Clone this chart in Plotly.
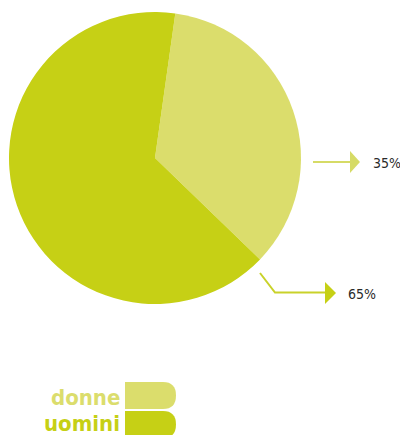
import plotly.graph_objects as go

W, H = 400, 435

# data
categories = ["donne", "uomini"]
values = [35, 65]
value_labels = ["35%", "65%"]
colors = ["#dbdd6c", "#c6d015"]


def px(x):
    return x / W


def py(y):
    return 1 - y / H


fig = go.Figure()
fig.add_trace(go.Pie(
    labels=categories,
    values=values,
    sort=False,
    direction="clockwise",
    rotation=8,
    marker=dict(colors=colors, line=dict(width=0)),
    textinfo="none",
    hoverinfo="label+percent",
    showlegend=False,
    domain=dict(x=[px(9), px(301)], y=[py(304), py(12)]),
))

shapes = []
# 35% arrow
shapes.append(dict(type="line", xref="paper", yref="paper",
                   x0=px(313), y0=py(162), x1=px(351), y1=py(162),
                   line=dict(color="#d6db66", width=2)))
shapes.append(dict(type="path", xref="paper", yref="paper",
                   path=f"M {px(350)},{py(151)} L {px(360)},{py(162)} L {px(350)},{py(173)} Z",
                   fillcolor="#d6db66", line=dict(width=0)))
# 65% arrow
shapes.append(dict(type="path", xref="paper", yref="paper",
                   path=f"M {px(260)},{py(273)} L {px(275)},{py(292.5)} L {px(326)},{py(292.5)}",
                   line=dict(color="#c9d22a", width=2)))
shapes.append(dict(type="path", xref="paper", yref="paper",
                   path=f"M {px(325)},{py(282)} L {px(336)},{py(293)} L {px(325)},{py(304)} Z",
                   fillcolor="#c6d015", line=dict(width=0)))


# legend icon (rounded right-side blocks)
def block(x0, x1, y0, y1, r, color):
    ym = (y0 + y1) / 2
    p = (f"M {px(x0)},{py(y0)} L {px(x1 - r)},{py(y0)} "
         f"Q {px(x1)},{py(y0)} {px(x1)},{py(ym)} "
         f"Q {px(x1)},{py(y1)} {px(x1 - r)},{py(y1)} "
         f"L {px(x0)},{py(y1)} Z")
    return dict(type="path", xref="paper", yref="paper", path=p,
                fillcolor=color, line=dict(width=0))


shapes.append(block(125, 176, 382, 409, 13, colors[0]))
shapes.append(block(125, 176, 411, 438, 13, colors[1]))

font_num = "DejaVu Sans Condensed, Liberation Sans Narrow, sans-serif"
annotations = [
    dict(x=px(371), y=py(163), xref="paper", yref="paper", text=value_labels[0],
         showarrow=False, xanchor="left", yanchor="middle",
         font=dict(family=font_num, size=14, color="#2a2a2a")),
    dict(x=px(346), y=py(294), xref="paper", yref="paper", text=value_labels[1],
         showarrow=False, xanchor="left", yanchor="middle",
         font=dict(family=font_num, size=14, color="#2a2a2a")),
    dict(x=px(122), y=py(397), xref="paper", yref="paper", text=f"<b>{categories[0]}</b>",
         showarrow=False, xanchor="right", yanchor="middle",
         font=dict(family=font_num, size=22, color=colors[0])),
    dict(x=px(122), y=py(423), xref="paper", yref="paper", text=f"<b>{categories[1]}</b>",
         showarrow=False, xanchor="right", yanchor="middle",
         font=dict(family=font_num, size=22, color=colors[1])),
]

fig.update_layout(
    width=W, height=H,
    margin=dict(l=0, r=0, t=0, b=0),
    paper_bgcolor="white",
    plot_bgcolor="white",
    shapes=shapes,
    annotations=annotations,
)

# remove the default 8px page margin so the figure fills the window exactly
fig.write_html(
    "out.html",
    config={"displayModeBar": False},
    post_script="document.body.style.margin='0';document.body.style.overflow='hidden';",
)
